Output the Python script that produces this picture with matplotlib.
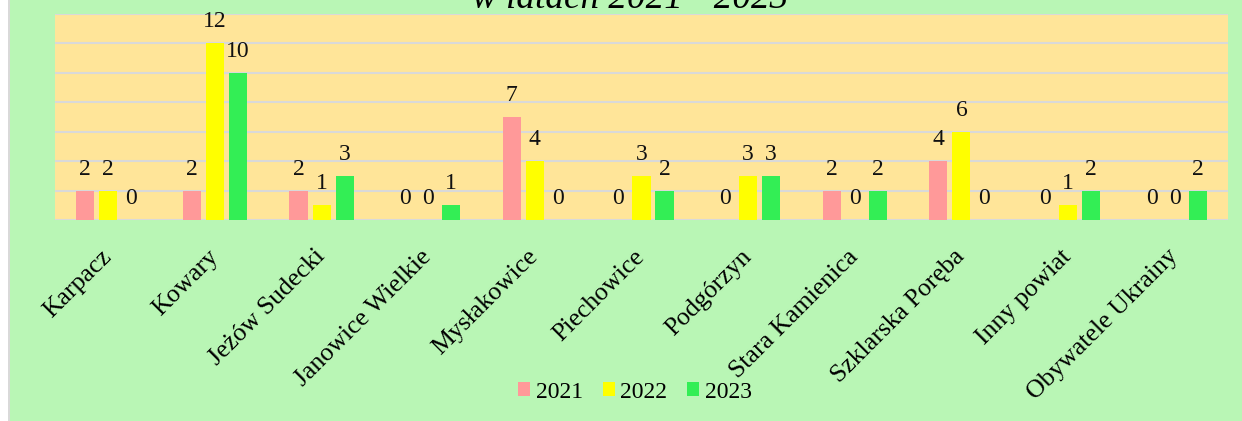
import numpy as np
import matplotlib.pyplot as plt
from matplotlib.patches import Rectangle

categories = ["Karpacz", "Kowary", "Jeżów Sudecki", "Janowice Wielkie", "Mysłakowice",
              "Piechowice", "Podgórzyn", "Stara Kamienica", "Szklarska Poręba",
              "Inny powiat", "Obywatele Ukrainy"]
years = ["2021", "2022", "2023"]
v2021 = [2, 2, 2, 0, 7, 0, 0, 2, 4, 0, 0]
v2022 = [2, 12, 1, 0, 4, 3, 3, 0, 6, 1, 0]
v2023 = [0, 10, 3, 1, 0, 2, 3, 2, 0, 2, 2]
colors = ["#ff9999", "#ffff00", "#33ee55"]

plt.rcParams['font.family'] = ['Liberation Serif', 'DejaVu Serif']

fig = plt.figure(figsize=(12.42, 4.21), dpi=100, facecolor="#b9f6b5")
# white strip + grey border on the left edge
fig.patches.append(Rectangle((0, 0), 8 / 1242, 1, transform=fig.transFigure,
                             facecolor="white", edgecolor="none", zorder=0))
fig.patches.append(Rectangle((8 / 1242, 0), 2 / 1242, 1, transform=fig.transFigure,
                             facecolor="#d9d9d9", edgecolor="none", zorder=0))

ax = fig.add_axes([55 / 1242, 1 - 220 / 421, 1173 / 1242, 206 / 421])
ax.set_facecolor("#ffe599")

x = np.arange(len(categories))
step = 0.216
width = 0.17
for i, (vals, col, yr) in enumerate(zip([v2021, v2022, v2023], colors, years)):
    pos = x + (i - 1) * step
    ax.bar(pos, vals, width, color=col, label=yr, zorder=3)
    for px, v in zip(pos, vals):
        ax.annotate(str(v), (px, v), xytext=(0, 11.5), textcoords="offset points",
                    ha="center", va="baseline", fontsize=17, color="#111111")

ax.set_xlim(-0.5, len(categories) - 0.5)
ax.set_ylim(0, 14)
ax.set_yticks(np.arange(0, 15, 2))
ax.set_yticklabels([])
ax.tick_params(length=0)
ax.grid(axis="y", color="#d9d9d9", linewidth=1.5, zorder=0)
for s in ax.spines.values():
    s.set_visible(False)

ax.set_xticks(x)
ax.set_xticklabels(categories, rotation=45, ha="right", va="center",
                   rotation_mode="anchor", fontsize=18.5)
ax.tick_params(axis="x", pad=24)

fig.text(0.507, 1 - 8 / 421, "w latach 2021 - 2023", ha="center", va="baseline",
         fontsize=26.7, style="italic")

fig.legend(loc="center", bbox_to_anchor=(635 / 1242, 1 - 392 / 421), ncol=3,
           frameon=False, fontsize=17, handlelength=0.5, handleheight=0.5,
           handletextpad=0.25, columnspacing=0.85)

fig.savefig("out.png", dpi=100, facecolor=fig.get_facecolor())
